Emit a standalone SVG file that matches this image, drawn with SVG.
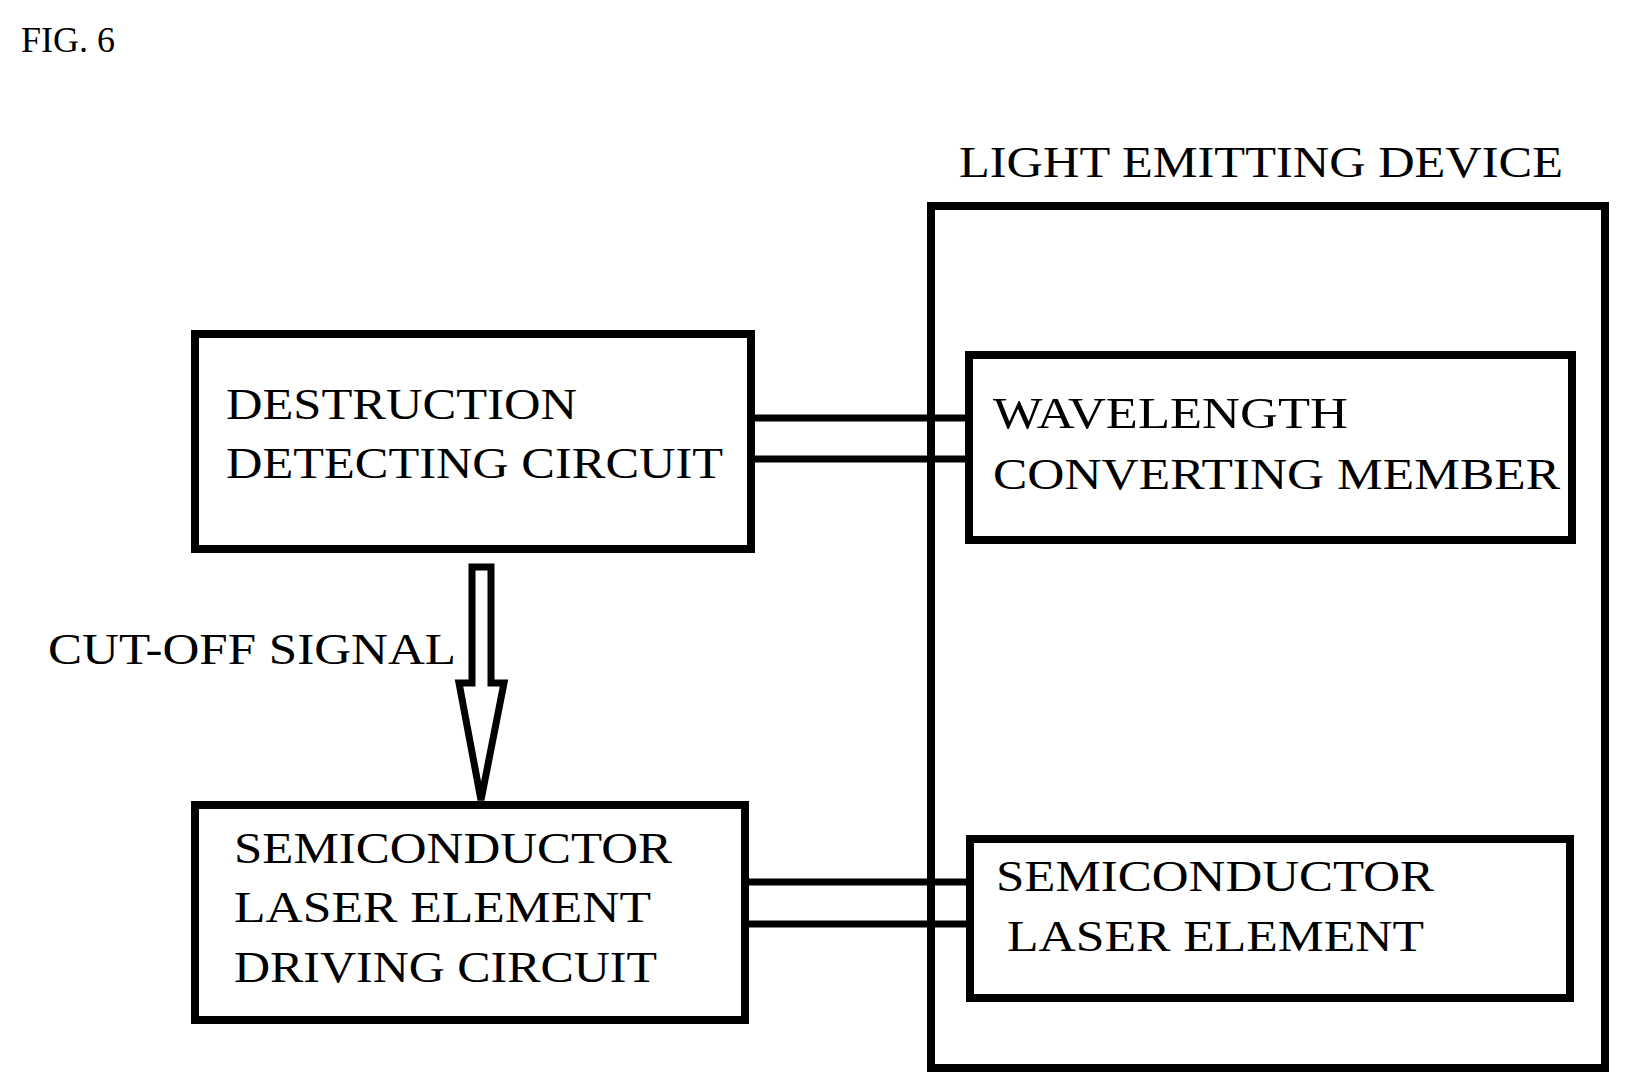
<svg xmlns="http://www.w3.org/2000/svg" width="1630" height="1091" viewBox="0 0 1630 1091">
<style>
.b{fill:none;stroke:#000;stroke-width:8}
.t{font-family:"Liberation Serif",serif;font-size:44px;fill:#000}
.c{stroke:#000;stroke-width:7}
</style>
<rect width="1630" height="1091" fill="#fff"/>
<text class="t" x="21" y="52" style="font-size:36px">FIG. 6</text>
<g id="device"><rect class="b" x="931" y="206" width="674" height="862"/>
<text class="t" x="959" y="177" textLength="604" lengthAdjust="spacingAndGlyphs">LIGHT EMITTING DEVICE</text></g>
<g id="destruction"><rect class="b" x="195" y="334" width="556" height="215"/>
<text class="t" x="226" y="419" textLength="351" lengthAdjust="spacingAndGlyphs">DESTRUCTION</text>
<text class="t" x="226" y="478" textLength="497" lengthAdjust="spacingAndGlyphs">DETECTING CIRCUIT</text></g>
<g id="wavelength"><rect class="b" x="969" y="355" width="603" height="185"/>
<text class="t" x="993" y="428" textLength="355" lengthAdjust="spacingAndGlyphs">WAVELENGTH</text>
<text class="t" x="993" y="489" textLength="567" lengthAdjust="spacingAndGlyphs">CONVERTING MEMBER</text></g>
<g id="driver"><rect class="b" x="195" y="805" width="550" height="215"/>
<text class="t" x="234" y="863" textLength="438" lengthAdjust="spacingAndGlyphs">SEMICONDUCTOR</text>
<text class="t" x="234" y="922" textLength="417" lengthAdjust="spacingAndGlyphs">LASER ELEMENT</text>
<text class="t" x="234" y="982" textLength="423" lengthAdjust="spacingAndGlyphs">DRIVING CIRCUIT</text></g>
<g id="laser"><rect class="b" x="970" y="839" width="600" height="159"/>
<text class="t" x="996" y="891" textLength="438" lengthAdjust="spacingAndGlyphs">SEMICONDUCTOR</text>
<text class="t" x="1007" y="951" textLength="417" lengthAdjust="spacingAndGlyphs">LASER ELEMENT</text></g>
<g id="connectors">
<line class="c" x1="751" y1="418" x2="969" y2="418"/>
<line class="c" x1="751" y1="459" x2="969" y2="459"/>
<line class="c" x1="745" y1="882" x2="970" y2="882"/>
<line class="c" x1="745" y1="924" x2="970" y2="924"/>
<path d="M472 567 H491 V683 H504 L481 800 L459 683 H472 Z" fill="#fff" stroke="#000" stroke-width="7" stroke-linejoin="miter"/>
<text class="t" x="48" y="664" textLength="408" lengthAdjust="spacingAndGlyphs">CUT-OFF SIGNAL</text>
</g>
</svg>
